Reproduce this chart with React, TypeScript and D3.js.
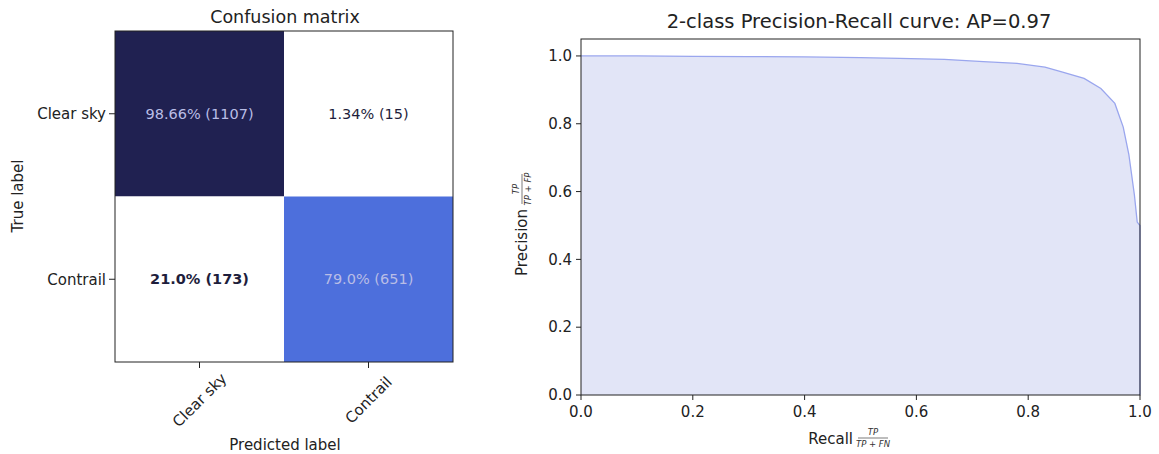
import React from 'react';
import * as d3 from 'd3';

// confusion matrix
const classes = ['Clear sky', 'Contrail'];
const cmPercent = [
  ['98.66%', '1.34%'],
  ['21.0%', '79.0%'],
];
const cmCounts = [
  [1107, 15],
  [173, 651],
];
const cmRate = [
  [0.9866, 0.0134],
  [0.21, 0.79],
];

// precision-recall curve
const recall = [0, 0.1, 0.2, 0.3, 0.4, 0.5, 0.57, 0.65, 0.72, 0.78, 0.83, 0.86, 0.9, 0.93, 0.955, 0.97, 0.98, 0.99, 0.995, 1.0, 1.0];
const precision = [1.0, 1.0, 0.999, 0.998, 0.997, 0.995, 0.993, 0.99, 0.983, 0.978, 0.967, 0.953, 0.934, 0.904, 0.86, 0.79, 0.71, 0.59, 0.51, 0.5, 0.0];
const prTicks = [0, 0.2, 0.4, 0.6, 0.8, 1.0];

const FONT = 'DejaVu Sans, sans-serif';

const Fraction = ({ x, y, num, den }: { x: number; y: number; num: string; den: string }) => (
  <g transform={`translate(${x},${y})`} fontFamily={FONT} fill="#333" fontStyle="italic">
    <text x={15} y={-3} fontSize={8.5} textAnchor="middle">{num}</text>
    <line x1={0} x2={30} y1={0} y2={0} stroke="#444" strokeWidth={0.7} />
    <text x={15} y={8.5} fontSize={8.5} textAnchor="middle">{den}</text>
  </g>
);

export default function App() {
  // confusion matrix scales
  const cx = d3.scaleBand().domain(classes).range([115, 453]);
  const cy = d3.scaleBand().domain(classes).range([31, 362]);
  const color = d3.scaleLinear<string>().domain([0, 0.3, 0.79, 1]).range(['#ffffff', '#ffffff', '#4d6fdc', '#1d1c48']).clamp(true);

  // PR scales
  const x = d3.scaleLinear().domain([0, 1]).range([581, 1140]);
  const y = d3.scaleLinear().domain([0, 1.05]).range([395, 39]);
  const pts = recall.map((r, i) => [r, precision[i]] as [number, number]);
  const areaGen = d3.area<[number, number]>().x((d) => x(d[0])).y0(y(0)).y1((d) => y(d[1]));
  const lineGen = d3.line<[number, number]>().x((d) => x(d[0])).y((d) => y(d[1]));

  return (
    <div style={{ position: 'absolute', left: 0, top: 0 }}>
      <svg width={1159} height={454} fontFamily={FONT}>
        <rect width={1159} height={454} fill="#fff" />

        {/* Confusion matrix */}
        <text x={285} y={23} textAnchor="middle" fontSize={17.5} fill="#222">Confusion matrix</text>
        {classes.map((row, i) =>
          classes.map((col, j) => {
            const v = cmRate[i][j];
            const dark = v > 0.5;
            return (
              <g key={`${i}-${j}`}>
                <rect x={cx(col)} y={cy(row)} width={cx.bandwidth()} height={cy.bandwidth()} fill={color(v)} />
                <text
                  x={cx(col)! + cx.bandwidth() / 2}
                  y={cy(row)! + cy.bandwidth() / 2}
                  dy="0.35em"
                  textAnchor="middle"
                  fontSize={14.5}
                  fontWeight={!dark && i === 1 ? 'bold' : 'normal'}
                  fill={dark ? '#b9bde6' : '#1e1e3c'}
                >
                  {`${cmPercent[i][j]} (${cmCounts[i][j]})`}
                </text>
              </g>
            );
          })
        )}
        <rect x={115} y={31} width={338} height={331} fill="none" stroke="#222" strokeWidth={1} />
        {classes.map((c) => (
          <g key={`yt-${c}`}>
            <line x1={109} x2={115} y1={cy(c)! + cy.bandwidth() / 2} y2={cy(c)! + cy.bandwidth() / 2} stroke="#222" />
            <text x={106} y={cy(c)! + cy.bandwidth() / 2} dy="0.35em" textAnchor="end" fontSize={15} fill="#222">{c}</text>
          </g>
        ))}
        {classes.map((c) => {
          const tx = cx(c)! + cx.bandwidth() / 2;
          return (
            <g key={`xt-${c}`}>
              <line x1={tx} x2={tx} y1={362} y2={368} stroke="#222" />
              <text transform={`translate(${tx},${400}) rotate(-45)`} dy="0.35em" textAnchor="middle" fontSize={15} fill="#222">{c}</text>
            </g>
          );
        })}
        <text x={285} y={450} textAnchor="middle" fontSize={15} fill="#222">Predicted label</text>
        <text transform="translate(23,196) rotate(-90)" textAnchor="middle" fontSize={15} fill="#222">True label</text>

        {/* Precision-Recall */}
        <text x={859} y={28} textAnchor="middle" fontSize={19.5} fill="#222">2-class Precision-Recall curve: AP=0.97</text>
        <path d={areaGen(pts)!} fill="#e2e5f7" />
        <path d={lineGen(pts)!} fill="none" stroke="#9aa6ee" strokeWidth={1.3} />
        <rect x={581} y={39} width={559} height={356} fill="none" stroke="#222" strokeWidth={1} />
        {prTicks.map((t) => (
          <g key={`px-${t}`}>
            <line x1={x(t)} x2={x(t)} y1={395} y2={400} stroke="#222" />
            <text x={x(t)} y={417} textAnchor="middle" fontSize={15} fill="#222">{t.toFixed(1)}</text>
            <line x1={576} x2={581} y1={y(t)} y2={y(t)} stroke="#222" />
            <text x={572} y={y(t)} dy="0.35em" textAnchor="end" fontSize={15} fill="#222">{t.toFixed(1)}</text>
          </g>
        ))}
        <text x={853} y={444} textAnchor="end" fontSize={15} fill="#222">Recall</text>
        <Fraction x={858} y={438} num="TP" den="TP + FN" />
        <g transform="translate(527,225) rotate(-90)">
          <text x={16} y={0} textAnchor="end" fontSize={15} fill="#222">Precision</text>
          <Fraction x={21} y={-5} num="TP" den="TP + FP" />
        </g>
      </svg>
    </div>
  );
}
